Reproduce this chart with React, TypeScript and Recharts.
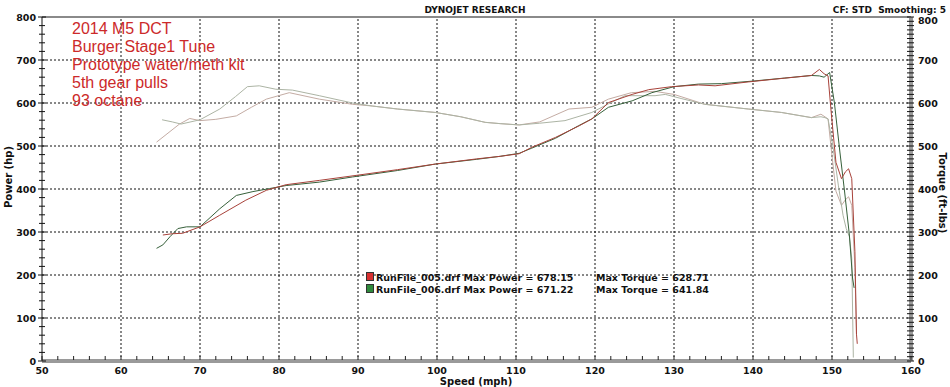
import React from "react";
import { LineChart, Line, XAxis, YAxis, ReferenceLine } from "recharts";

// axis ticks
const speedTicks = [50, 60, 70, 80, 90, 100, 110, 120, 130, 140, 150, 160];
const valueTicks = [0, 100, 200, 300, 400, 500, 600, 700, 800];

// run 005 (red)
const speed005P = [65.3, 66.5, 67.8, 70, 72.5, 75.8, 78.4, 80.9, 85.1, 89.9, 95, 99.8, 105, 108, 110.4, 112, 115, 118, 119.6, 121.7, 124.7, 126.8, 129.7, 133.1, 135.2, 139.4, 143.6, 147.4, 148.4, 149.0, 149.5, 149.9, 150.5, 151.2, 151.7, 152.1, 152.5, 152.9, 153.1, 153.2];
const power005 = [293, 296, 297, 312, 339, 374, 397, 410, 420, 432, 445, 458, 470, 476, 482, 497, 520, 547, 563, 601, 620, 631, 638, 642, 640, 649, 657, 664, 678, 668, 663, 578, 462, 424, 440, 447, 424, 254, 62, 40];
const speed005T = [64.5, 67.4, 68.7, 70, 72, 74.6, 76.5, 78.4, 81.3, 85.1, 89.3, 91.8, 95, 99.8, 103, 106.1, 108, 110.4, 113, 116.7, 119.6, 121.7, 124.6, 127.6, 130, 133.9, 139.4, 143.6, 147.4, 148.6, 149.5, 149.9, 150.5, 151.2, 151.7, 152.1, 152.5, 152.9, 153.1];
const torque005 = [509, 551, 564, 559, 562, 570, 590, 609, 624, 609, 597, 593, 586, 578, 568, 555, 552, 549, 556, 586, 590, 609, 624, 627, 620, 597, 586, 578, 566, 574, 563, 494, 395, 362, 375, 382, 362, 217, 60];

// run 006 (green)
const speed006P = [64.5, 65.3, 66.2, 67.2, 68.3, 70, 72.5, 74.6, 76.7, 78.8, 80.9, 85.1, 89.3, 95, 99.8, 105, 108, 110.4, 112, 115, 117.9, 119.6, 121.7, 124.7, 127.2, 130, 133.1, 136, 140, 144, 147.4, 148.4, 149.0, 149.7, 150.3, 151, 151.6, 152.2, 152.6, 152.8];
const power006 = [262, 270, 289, 308, 312, 312, 354, 385, 394, 401, 408, 416, 428, 443, 458, 469, 476, 483, 495, 518, 547, 563, 590, 605, 624, 638, 644, 645, 651, 658, 664, 663, 660, 671, 601, 486, 393, 293, 193, 170];
const speed006T = [65.2, 66.5, 67.6, 70, 72.5, 74.5, 76, 77.5, 79.6, 81.7, 85.1, 89.3, 91.8, 95, 99.8, 103, 106.1, 108, 110.4, 113, 116.2, 119.6, 121.7, 123.8, 127.6, 128.9, 131, 133.9, 139.4, 143.6, 147.4, 148.6, 149.1, 149.5, 150.1, 150.8, 151.4, 151.8, 152.2, 152.5, 152.7];
const torque006 = [561, 556, 551, 561, 586, 615, 638, 640, 632, 630, 617, 600, 593, 586, 578, 568, 555, 552, 549, 553, 559, 578, 598, 617, 617, 620, 610, 597, 586, 578, 566, 568, 566, 563, 501, 409, 339, 308, 289, 239, 8];

const notes = ["2014 M5 DCT", "Burger Stage1 Tune", "Prototype water/meth kit", "5th gear pulls", "93 octane"];
const legendRows = [
  { name: "RunFile_005.drf", maxPower: "678.15", maxTorque: "628.71", color: "#d83030" },
  { name: "RunFile_006.drf", maxPower: "671.22", maxTorque: "641.84", color: "#2f8a3c" },
];

const toPoints = (xs: number[], ys: number[]) => xs.map((x, i) => ({ x, v: ys[i] }));

const minorSpeed: number[] = [];
for (let s = 50; s <= 160; s += 2) minorSpeed.push(s);
const minorLeft: number[] = [];
for (let v = 0; v <= 800; v += 20) minorLeft.push(v);
const minorRight: number[] = [];
for (let v = 0; v <= 800; v += 10) minorRight.push(v);

const FONT = "'DejaVu Sans', Verdana, sans-serif";

const XTick = ({ x, y, payload }: any) => (
  <g>
    <line x1={x} x2={x} y1={y - 5} y2={y - 1} stroke="#222" />
    {payload.value % 10 === 0 && (
      <text x={x} y={y + 13} textAnchor="middle" fontSize={9.5} fontWeight="bold" fontFamily={FONT} fill="#111">
        {payload.value}
      </text>
    )}
  </g>
);

const LeftTick = ({ x, y, payload }: any) => {
  const major = payload.value % 100 === 0;
  return (
    <g>
      <line x1={x - (major ? 4 : 3)} x2={x + (major ? 4 : 3)} y1={y} y2={y} stroke="#111" />
      {major && (
        <text x={x - 6} y={y + 3.5} textAnchor="end" fontSize={9.5} fontWeight="bold" fontFamily={FONT} fill="#111">
          {payload.value}
        </text>
      )}
    </g>
  );
};

const RightTick = ({ x, y, payload }: any) => {
  const major = payload.value % 100 === 0;
  return (
    <g>
      <line x1={x - 4} x2={x + 3} y1={y} y2={y} stroke="#111" />
      {major && (
        <text x={x + 7} y={y + (payload.value === 800 ? 7 : 3.5)} textAnchor="start" fontSize={9.5} fontWeight="bold" fontFamily={FONT} fill="#111">
          {payload.value}
        </text>
      )}
    </g>
  );
};

export default function App() {
  return (
    <div style={{ position: "absolute", left: 0, top: 0, width: 950, height: 387, background: "#fff" }}>
      <LineChart width={950} height={387} margin={{ top: 17, right: 0, bottom: 0, left: 0 }}>
        <XAxis
          dataKey="x"
          type="number"
          domain={[50, 160]}
          ticks={minorSpeed}
          interval={0}
          tickSize={0}
          tickMargin={0}
          tick={<XTick />}
          axisLine={{ stroke: "#9a9a9a", strokeWidth: 4 }}
          height={26}
          allowDataOverflow
        />
        <YAxis
          domain={[0, 800]}
          ticks={minorLeft}
          interval={0}
          tickSize={0}
          tickMargin={0}
          tick={<LeftTick />}
          axisLine={{ stroke: "#111" }}
          width={42}
          allowDataOverflow
        />
        <YAxis
          yAxisId="right"
          orientation="right"
          domain={[0, 800]}
          ticks={minorRight}
          interval={0}
          tickSize={0}
          tickMargin={0}
          tick={<RightTick />}
          axisLine={{ stroke: "#9a9a9a", strokeWidth: 4 }}
          width={39}
          allowDataOverflow
        />
        {speedTicks.slice(1, -1).map((s) => (
          <ReferenceLine key={"vx" + s} x={s} stroke="#111" strokeDasharray="2 2" />
        ))}
        {valueTicks.slice(1, -1).map((v) => (
          <ReferenceLine key={"hy" + v} y={v} stroke="#111" strokeDasharray="2 2" />
        ))}
        <ReferenceLine y={800} stroke="#8a8a8a" strokeWidth={2} />

        <Line data={toPoints(speed005T, torque005)} dataKey="v" yAxisId="right" stroke="#c4aca4" strokeWidth={1} dot={false} isAnimationActive={false} />
        <Line data={toPoints(speed006T, torque006)} dataKey="v" yAxisId="right" stroke="#acb4a4" strokeWidth={1} dot={false} isAnimationActive={false} />
        <Line data={toPoints(speed006P, power006)} dataKey="v" stroke="#36603a" strokeWidth={1} dot={false} isAnimationActive={false} />
        <Line data={toPoints(speed005P, power005)} dataKey="v" stroke="#a8423a" strokeWidth={1} dot={false} isAnimationActive={false} />
      </LineChart>

      <svg width={950} height={387} style={{ position: "absolute", left: 0, top: 0, pointerEvents: "none" }}>
        <text x={475} y={13} textAnchor="middle" fontSize={9} fontWeight="bold" fontFamily={FONT} fill="#111">
          DYNOJET RESEARCH
        </text>
        <text x={946} y={13} textAnchor="end" fontSize={9} fontWeight="bold" fontFamily={FONT} fill="#111">
          {"CF: STD\u00a0\u00a0Smoothing: 5"}
        </text>
        {notes.map((t, i) => (
          <text key={t} x={72} y={34 + i * 18} fontSize={16} fontFamily="'Liberation Sans', Arial, sans-serif" fill="#cc2a2a">
            {t}
          </text>
        ))}
        {legendRows.map((r, i) => (
          <g key={r.name}>
            <rect x={366.5} y={272.5 + i * 12} width={7} height={8} fill={r.color} stroke="#333" />
            <text x={376} y={281 + i * 12} fontSize={9.5} fontWeight="bold" fontFamily={FONT} fill="#111">
              {r.name} Max Power = {r.maxPower}
            </text>
            <text x={596} y={281 + i * 12} fontSize={9.5} fontWeight="bold" fontFamily={FONT} fill="#111">
              Max Torque = {r.maxTorque}
            </text>
          </g>
        ))}
        <text x={476} y={385} textAnchor="middle" fontSize={10} fontWeight="bold" fontFamily={FONT} fill="#111">
          Speed (mph)
        </text>
        <text x={12} y={177} textAnchor="middle" fontSize={10} fontWeight="bold" fontFamily={FONT} fill="#111" transform="rotate(-90 12 177)">
          Power (hp)
        </text>
        <text x={939} y={193} textAnchor="middle" fontSize={10} fontWeight="bold" fontFamily={FONT} fill="#111" transform="rotate(90 939 193)">
          Torque (ft-lbs)
        </text>
      </svg>
    </div>
  );
}
